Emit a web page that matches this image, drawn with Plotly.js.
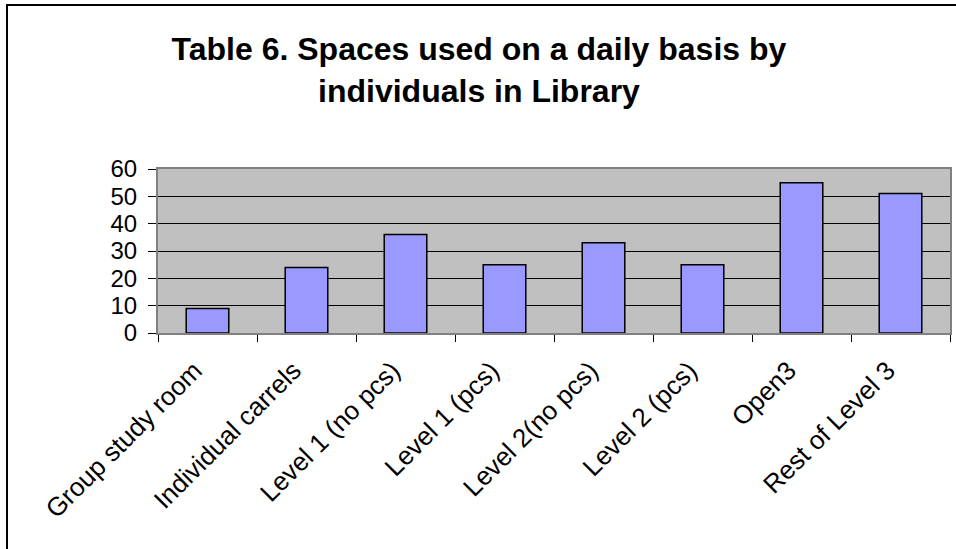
<!DOCTYPE html>
<html>
<head>
<meta charset="utf-8">
<script src="https://cdn.plot.ly/plotly-3.0.1.min.js"></script>
<style>
html,body{margin:0;padding:0;background:#fff;}
#chart{width:956px;height:549px;}
</style>
</head>
<body>
<div id="chart"></div>
<script>
const categories = ["Group study room", "Individual carrels", "Level 1 (no pcs)", "Level 1 (pcs)", "Level 2(no pcs)", "Level 2 (pcs)", "Open3", "Rest of Level 3"];
const values = [9, 24, 36, 25, 33, 25, 55, 51];
const yTicks = [0, 10, 20, 30, 40, 50, 60];
const titleText = "Table 6. Spaces used on a daily basis by<br>individuals in Library";

const FONT = "Liberation Sans, Arial, sans-serif";

const trace = {
  type: "bar",
  x: categories,
  y: values,
  marker: {color: "#9999FF", line: {color: "#000000", width: 1.5}},
  hoverinfo: "x+y"
};

const L = 158, R = 6, T = 169, B = 216;
const pw = 956 - L - R, ph = 549 - T - B;
const px2x = p => (p - L) / pw;
const py2y = p => (549 - B - p) / ph;

const layout = {
  width: 956, height: 549,
  margin: {l: L, r: R, t: T, b: B, pad: 0},
  paper_bgcolor: "#FFFFFF",
  plot_bgcolor: "#C0C0C0",
  showlegend: false,
  bargap: 0.57,
  font: {family: FONT, color: "#000000"},
  title: {
    text: titleText,
    font: {family: FONT, size: 32, color: "#000000", weight: "bold"},
    xref: "container", yref: "container",
    x: 0.501, xanchor: "center",
    y: 1 - 60/549, yanchor: "top"
  },
  xaxis: {
    type: "category",
    tickson: "boundaries",
    ticks: "outside", ticklen: 7, tickcolor: "#000000", tickwidth: 1,
    tickangle: -45,
    tickfont: {family: FONT, size: 26, color: "#000000"},
    ticklabelstandoff: 10,
    ticklabelshift: -13,
    showline: true, linecolor: "#808080", linewidth: 2, mirror: true,
    showgrid: false, zeroline: false,
    fixedrange: true
  },
  yaxis: {
    range: [0, 60],
    tickvals: yTicks,
    ticktext: yTicks.map(String),
    ticks: "outside", ticklen: 8, tickcolor: "#000000", tickwidth: 1,
    tickfont: {family: FONT, size: 24, color: "#000000"},
    ticklabelstandoff: 6,
    showline: true, linecolor: "#808080", linewidth: 2, mirror: true,
    showgrid: true, gridcolor: "#000000", gridwidth: 1,
    zeroline: false,
    fixedrange: true
  },
  shapes: [
    {type: "line", xref: "paper", yref: "paper", x0: px2x(7), x1: px2x(7), y0: py2y(5), y1: py2y(560), line: {color: "#000000", width: 2}},
    {type: "line", xref: "paper", yref: "paper", x0: px2x(6), x1: px2x(970), y0: py2y(5), y1: py2y(5), line: {color: "#000000", width: 2}}
  ]
};

Plotly.newPlot("chart", [trace], layout, {displayModeBar: false, staticPlot: true});
</script>
</body>
</html>
